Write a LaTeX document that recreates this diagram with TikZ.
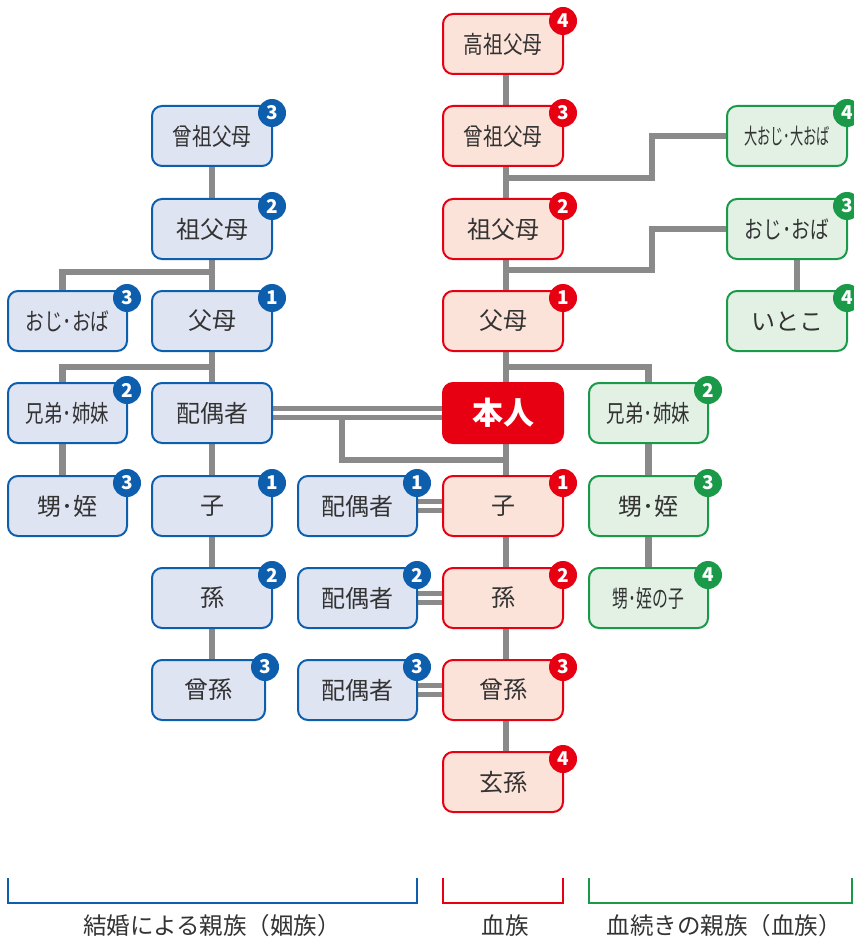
\documentclass[tikz,border=0pt]{standalone}
\usepackage{fontspec}
\setmainfont{Noto Sans CJK JP}
\usetikzlibrary{backgrounds}
\definecolor{bblue}{HTML}{0E5EAE}
\definecolor{bfill}{HTML}{DFE4F3}
\definecolor{rred}{HTML}{E60012}
\definecolor{rfill}{HTML}{FCE3D9}
\definecolor{ggreen}{HTML}{1A9A48}
\definecolor{gfill}{HTML}{E2F1E4}
\definecolor{lgray}{HTML}{8A8A8A}
\definecolor{txt}{HTML}{333333}
\tikzset{
  box/.style={rounded corners=10pt, minimum width=120pt, minimum height=60pt, line width=2pt, text=txt, font=\fontsize{24}{24}\selectfont, inner sep=0pt},
  bluebox/.style={box, draw=bblue, fill=bfill},
  redbox/.style={box, draw=rred, fill=rfill},
  greenbox/.style={box, draw=ggreen, fill=gfill},
  badge/.style={circle, minimum size=28pt, inner sep=0pt, text=white, font=\fontsize{19}{19}\selectfont\bfseries},
  conn/.style={draw=lgray, line width=6.5pt},
  dconn/.style={draw=lgray, line width=5pt, double=white, double distance=4pt},
  brk/.style={line width=2pt},
  lab/.style={text=txt, font=\fontsize{23.5}{23.5}\selectfont, inner sep=0pt},
}
\newcommand\mybadge[3]{\node[badge, fill=#2] (#1-b) at ([xshift=-1pt,yshift=-8pt]#1.north east) {#3};}
\newcommand\cx[2]{\scalebox{#1}[1]{#2}}
\begin{document}
\begin{tikzpicture}[x=1pt,y=-1pt]
\useasboundingbox (0,0) rectangle (853,941);
% red column
\node[redbox] (r4) at (503,44) {\cx{0.82}{高祖父母}};
\node[redbox] (r3) at (503,136) {\cx{0.82}{曾祖父母}};
\node[redbox] (r2) at (503,229) {祖父母};
\node[redbox] (r1) at (503,321) {父母};
\node[box, draw=rred, fill=rred, text=white, font=\fontsize{31}{31}\selectfont\bfseries] (me) at (503,413) {本人};
\node[redbox] (c1) at (503,506) {子};
\node[redbox] (c2) at (503,598) {孫};
\node[redbox] (c3) at (503,690) {曾孫};
\node[redbox] (c4) at (503,782) {玄孫};
% blue main column
\node[bluebox] (bg3) at (212,136) {\cx{0.82}{曾祖父母}};
\node[bluebox] (bg2) at (212,229) {祖父母};
\node[bluebox] (bp) at (212,321) {父母};
\node[bluebox] (bs) at (212,413) {配偶者};
\node[bluebox] (bc1) at (212,506) {子};
\node[bluebox] (bc2) at (212,598) {孫};
\node[bluebox, minimum width=113pt] (bc3) at (208.5,690) {曾孫};
% blue left column
\node[bluebox, minimum width=119pt] (bu) at (67.5,321) {\cx{0.78}{おじ･おば}};
\node[bluebox, minimum width=119pt] (bsib) at (67.5,413) {\cx{0.77}{兄弟･姉妹}};
\node[bluebox, minimum width=119pt] (bn) at (67.5,506) {甥･姪};
% spouses
\node[bluebox, minimum width=119pt] (sp1) at (357.5,506) {配偶者};
\node[bluebox, minimum width=119pt] (sp2) at (357.5,598) {配偶者};
\node[bluebox, minimum width=119pt] (sp3) at (357.5,690) {配偶者};
% green right column
\node[greenbox, font=\fontsize{22}{22}\selectfont] (gu2) at (787,136) {\cx{0.6}{大おじ･大おば}};
\node[greenbox] (gu1) at (787,229) {\cx{0.78}{おじ･おば}};
\node[greenbox] (gco) at (787,321) {いとこ};
% green middle column
\node[greenbox, minimum width=119pt] (gs) at (648.5,413) {\cx{0.77}{兄弟･姉妹}};
\node[greenbox, minimum width=119pt] (gn) at (648.5,506) {甥･姪};
\node[greenbox, minimum width=119pt] (gnn) at (648.5,598) {\cx{0.66}{甥･姪の子}};
% badges
\mybadge{r4}{rred}{4}\mybadge{r3}{rred}{3}\mybadge{r2}{rred}{2}\mybadge{r1}{rred}{1}
\mybadge{c1}{rred}{1}\mybadge{c2}{rred}{2}\mybadge{c3}{rred}{3}\mybadge{c4}{rred}{4}
\mybadge{bg3}{bblue}{3}\mybadge{bg2}{bblue}{2}\mybadge{bp}{bblue}{1}
\mybadge{bc1}{bblue}{1}\mybadge{bc2}{bblue}{2}\mybadge{bc3}{bblue}{3}
\mybadge{bu}{bblue}{3}\mybadge{bsib}{bblue}{2}\mybadge{bn}{bblue}{3}
\mybadge{sp1}{bblue}{1}\mybadge{sp2}{bblue}{2}\mybadge{sp3}{bblue}{3}
\mybadge{gu2}{ggreen}{4}\mybadge{gu1}{ggreen}{3}\mybadge{gco}{ggreen}{4}
\mybadge{gs}{ggreen}{2}\mybadge{gn}{ggreen}{3}\mybadge{gnn}{ggreen}{4}
% junction coordinates
\coordinate (j1) at (212,272);
\coordinate (j2) at (212,367);
\coordinate (j3) at (506,178);
\coordinate (m1) at (652,157);
\coordinate (j4) at (506,270);
\coordinate (m2) at (652,250);
\coordinate (j5) at (506,367);
\coordinate (k1) at (342,416);
\coordinate (k2) at (506,460);
\begin{scope}[on background layer]
  \draw[conn] ([xshift=3pt]r4.center) -- ([xshift=3pt]c4.center);
  \draw[conn] (bg3.center) -- (bg3 |- bc3.center);
  \draw[conn] ([xshift=-5pt]bu.center) |- (j1);
  \draw[conn] ([xshift=-5pt]bn.center) |- (j2);
  \draw[conn] (j3) -| (m1) |- (gu2.west);
  \draw[conn] (j4) -| (m2) |- (gu1.west);
  \draw[conn] ([xshift=10pt]gu1.center) -- ([xshift=10pt]gco.center);
  \draw[conn] (j5) -| (gnn.center);
  \draw[dconn] (bs.east) -- (me.west);
  \draw[conn] (k1) |- (k2) -- ([xshift=3pt]c1.center);
  \draw[dconn] (sp1.east) -- (c1.west);
  \draw[dconn] (sp2.east) -- (c2.west);
  \draw[dconn] (sp3.east) -- (c3.west);
\end{scope}
% brackets
\coordinate (ba) at (8,878); \coordinate (bb) at (417,878);
\coordinate (ra) at (443,878); \coordinate (rb) at (563,878);
\coordinate (ga) at (589,878); \coordinate (gb) at (852,878);
\draw[brk, bblue] (ba) -- ++(0,25) -| (bb);
\draw[brk, rred] (ra) -- ++(0,25) -| (rb);
\draw[brk, ggreen] (ga) -- ++(0,25) -| (gb);
\node[lab] (l1) at (212,926) {結婚による親族（姻族）};
\node[lab] (l2) at (505,926) {血族};
\node[lab] (l3) at (724,926) {血続きの親族（血族）};
\end{tikzpicture}
\end{document}
